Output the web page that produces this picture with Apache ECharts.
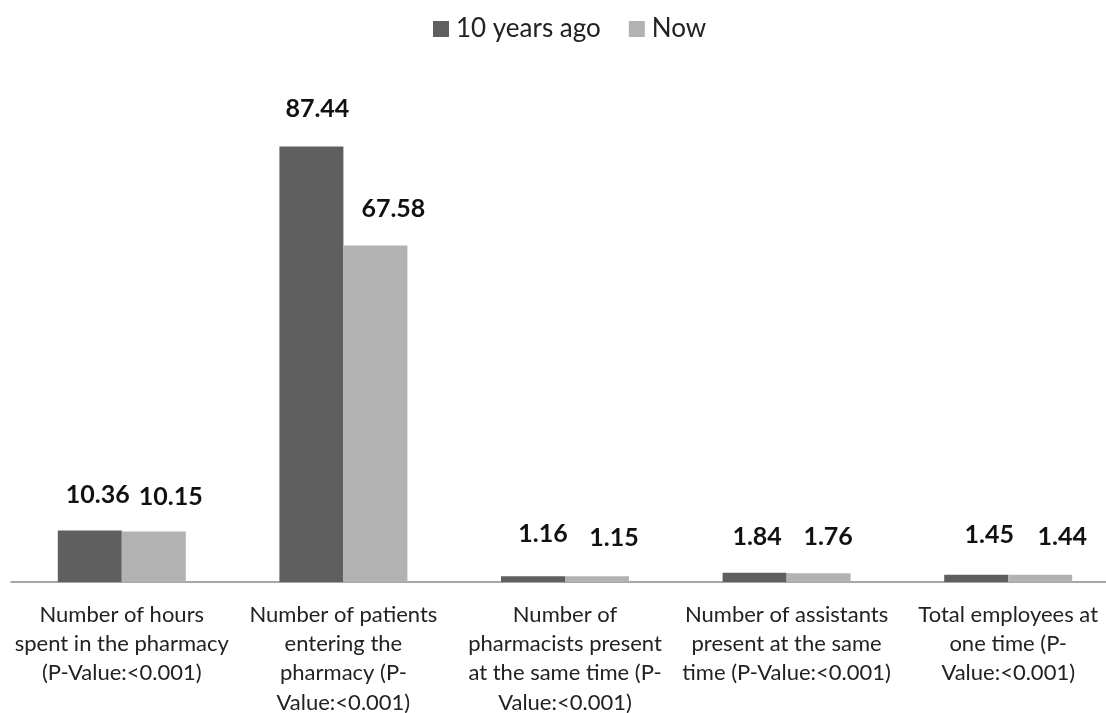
<!DOCTYPE html>
<html>
<head>
<meta charset="utf-8">
<script src="https://cdn.jsdelivr.net/npm/echarts@6/dist/echarts.min.js"></script>
<style>
html,body{margin:0;padding:0;background:#fff;overflow:hidden;}
#chart{width:1106px;height:713px;}
</style>
</head>
<body>
<div id="chart"></div>
<script>
var categories = [
  "Number of hours\nspent in the pharmacy\n(P-Value:<0.001)",
  "Number of patients\nentering the\npharmacy (P-\nValue:<0.001)",
  "Number of\npharmacists present\nat the same time (P-\nValue:<0.001)",
  "Number of assistants\npresent at the same\ntime (P-Value:<0.001)",
  "Total employees at\none time (P-\nValue:<0.001)"
];
var seriesNames = ["10 years ago", "Now"];
var tenYearsAgo = [10.36, 87.44, 1.16, 1.84, 1.45];
var now = [10.15, 67.58, 1.15, 1.76, 1.44];

// label nudges (dx, gap above bar top to label centre)
var labelNudgeOld = [[8, 36.7], [6, 38.8], [10, 43], [2.5, 36.5], [13, 41]];
var labelNudgeNew = [[17, 35.4], [18, 37.5], [17, 39], [9.5, 37], [22, 39]];

function mkData(vals, nudges) {
  return vals.map(function (v, i) {
    return {
      value: v,
      label: { offset: [nudges[i][0], -(nudges[i][1] - 13)] }
    };
  });
}

var chart = echarts.init(document.getElementById('chart'), null, {renderer: 'canvas'});
var labelStyle = {
  show: true,
  position: 'top',
  distance: 0,
  fontFamily: 'Lato',
  fontWeight: 'bold',
  fontSize: 25,
  lineHeight: 24,
  color: '#111',
  formatter: function (p) { return p.value.toFixed(2); }
};
chart.setOption({
  animation: false,
  backgroundColor: '#ffffff',
  textStyle: { fontFamily: 'Lato' },
  legend: {
    top: 11,
    left: 428,
    itemWidth: 16,
    itemHeight: 16,
    itemGap: 28,
    icon: 'rect',
    data: seriesNames,
    textStyle: { fontFamily: 'Lato', fontSize: 26, color: '#222', padding: [0, 0, 0, 2] }
  },
  grid: { left: 11, top: 84, width: 1108, height: 498, containLabel: false, outerBoundsMode: 'none' },
  xAxis: {
    type: 'category',
    data: categories,
    axisLine: { show: true, lineStyle: { color: '#8a8a8a', width: 1.5 } },
    axisTick: { show: false },
    axisLabel: {
      interval: 0,
      margin: 18,
      fontFamily: 'Lato',
      fontSize: 22,
      lineHeight: 29.3,
      color: '#222',
      align: 'center'
    }
  },
  yAxis: {
    type: 'value',
    min: 0,
    max: 100,
    show: false,
    splitLine: { show: false }
  },
  series: [
    {
      name: seriesNames[0],
      type: 'bar',
      data: mkData(tenYearsAgo, labelNudgeOld),
      barWidth: 64,
      barGap: '0%',
      itemStyle: { color: '#5f5f5f' },
      label: labelStyle
    },
    {
      name: seriesNames[1],
      type: 'bar',
      data: mkData(now, labelNudgeNew),
      barWidth: 64,
      barGap: '0%',
      itemStyle: { color: '#b2b2b2' },
      label: labelStyle
    }
  ]
});
</script>
</body>
</html>
